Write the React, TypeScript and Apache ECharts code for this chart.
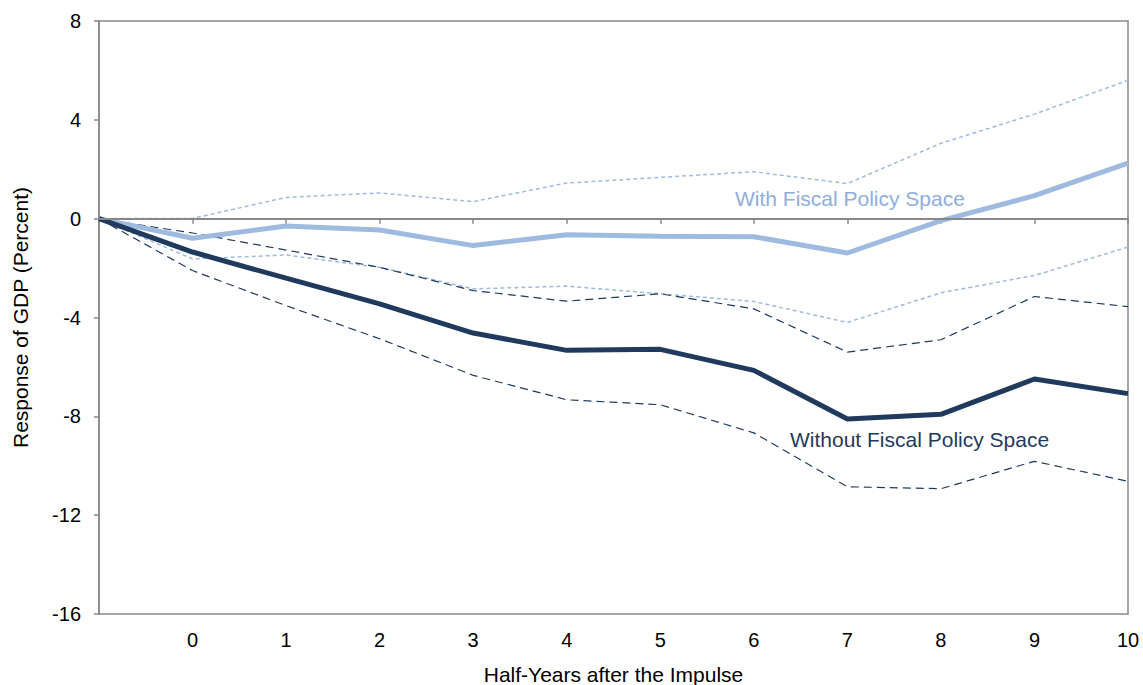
import { useEffect, useRef } from 'react';
import * as echarts from 'echarts';

const halfYears = ['', '0', '1', '2', '3', '4', '5', '6', '7', '8', '9', '10'];

const withSpace = [0, -0.79, -0.3, -0.46, -1.09, -0.65, -0.71, -0.73, -1.39, -0.08, 0.93, 2.25];
const withUpper = [0, 0.01, 0.86, 1.04, 0.69, 1.44, 1.67, 1.9, 1.42, 3.05, 4.23, 5.6];
const withLower = [0, -1.63, -1.47, -1.97, -2.84, -2.73, -3.04, -3.35, -4.2, -3.0, -2.3, -1.15];

const withoutSpace = [0, -1.35, -2.41, -3.45, -4.63, -5.33, -5.29, -6.14, -8.11, -7.92, -6.49, -7.08];
const withoutUpper = [0, -0.58, -1.27, -1.97, -2.91, -3.34, -3.04, -3.65, -5.4, -4.9, -3.15, -3.56];
const withoutLower = [0, -2.1, -3.52, -4.86, -6.34, -7.33, -7.53, -8.67, -10.85, -10.93, -9.82, -10.63];

const LIGHT = '#9fbadf';
const DARK = '#1f3a5c';
const AXIS = '#888888';
const FONT = 'Liberation Sans';

export default function App() {
  const chartRef = useRef<HTMLDivElement>(null);
  useEffect(() => {
    if (!chartRef.current) return;
    const chart = echarts.init(chartRef.current, undefined, { renderer: 'svg' });
    const dashed = (name: string, data: number[], color: string, width: number, dash: number[]) => ({
      name,
      type: 'line',
      data,
      symbol: 'none',
      lineStyle: { color, width, type: dash },
      silent: true,
    });
    chart.setOption({
      animation: false,
      textStyle: { fontFamily: FONT },
      grid: {
        left: 99,
        right: 15,
        top: 21,
        bottom: 71,
        outerBoundsMode: 'none',
        containLabel: false,
        show: true,
        borderColor: AXIS,
        borderWidth: 1.5,
      },
      xAxis: {
        type: 'category',
        data: halfYears,
        boundaryGap: false,
        name: 'Half-Years after the Impulse',
        nameLocation: 'middle',
        nameGap: 50,
        nameTextStyle: { fontSize: 21, color: '#000', fontFamily: FONT },
        axisLine: { lineStyle: { color: AXIS, width: 1.5 } },
        axisTick: { length: 5, lineStyle: { color: AXIS, width: 1.5 } },
        axisLabel: { fontSize: 20, color: '#000', margin: 16, fontFamily: FONT, interval: 0 },
        splitLine: { show: false },
      },
      yAxis: {
        type: 'value',
        min: -16,
        max: 8,
        interval: 4,
        name: 'Response of GDP (Percent)',
        nameLocation: 'middle',
        nameRotate: 90,
        nameGap: 68,
        nameTextStyle: { fontSize: 21, color: '#000', fontFamily: FONT },
        axisLine: { show: true, lineStyle: { color: AXIS, width: 1.5 } },
        axisTick: { show: true, length: 5, lineStyle: { color: AXIS, width: 1.5 } },
        axisLabel: { fontSize: 20, color: '#000', margin: 18, fontFamily: FONT },
        splitLine: { show: false },
      },
      series: [
        {
          ...dashed('With upper', withUpper, LIGHT, 1.5, [4, 3]),
          markLine: {
            silent: true,
            symbol: 'none',
            label: { show: false },
            lineStyle: { color: AXIS, width: 2, type: 'solid' },
            data: [{ yAxis: 0 }],
          },
        },
        dashed('With lower', withLower, LIGHT, 1.5, [4, 3]),
        dashed('Without upper', withoutUpper, DARK, 1.2, [8, 5]),
        dashed('Without lower', withoutLower, DARK, 1.2, [8, 5]),
        {
          name: 'With Fiscal Policy Space',
          type: 'line',
          data: withSpace,
          symbol: 'none',
          lineStyle: { color: LIGHT, width: 5 },
        },
        {
          name: 'Without Fiscal Policy Space',
          type: 'line',
          data: withoutSpace,
          symbol: 'none',
          lineStyle: { color: DARK, width: 5 },
        },
      ],
      graphic: [
        {
          type: 'text',
          left: 735,
          top: 188,
          style: { text: 'With Fiscal Policy Space', fill: '#8eaedb', fontSize: 21, fontFamily: FONT },
        },
        {
          type: 'text',
          left: 790,
          top: 429,
          style: { text: 'Without Fiscal Policy Space', fill: DARK, fontSize: 21, fontFamily: FONT },
        },
      ],
    });
    return () => {
      chart.dispose();
    };
  }, []);
  return (
    <div
      ref={chartRef}
      style={{ position: 'fixed', left: 0, top: 0, width: 1143, height: 685, background: '#fff' }}
    />
  );
}
